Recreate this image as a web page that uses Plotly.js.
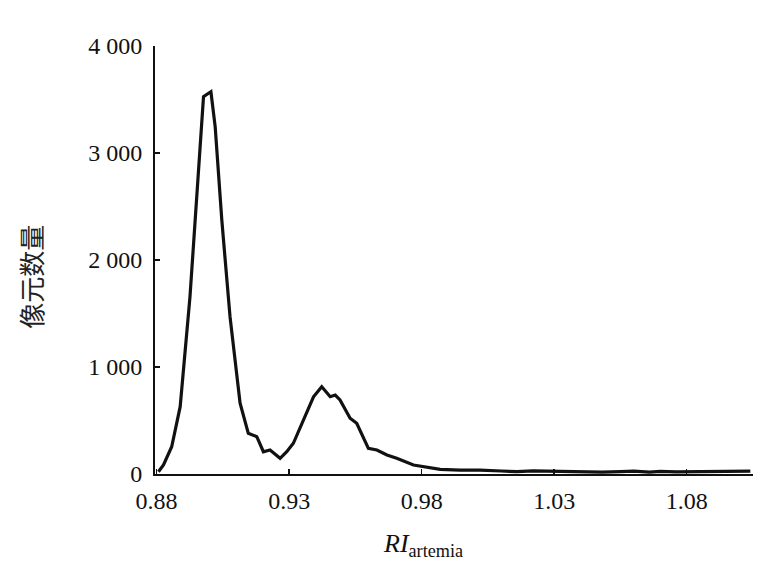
<!DOCTYPE html>
<html>
<head>
<meta charset="utf-8">
<script src="https://cdn.plot.ly/plotly-3.0.1.min.js"></script>
<style>html,body{margin:0;padding:0;background:#fff;}#chart{width:768px;height:573px;}</style>
</head>
<body>
<div id="chart"></div>
<script>
// RI_artemia values (x) and pixel counts (y)
const riValues = [0.8807,0.8826,0.8857,0.8889,0.8926,0.8945,0.8977,0.8996,0.9005,0.9021,0.9046,0.9077,0.9115,0.9146,0.9178,0.9203,0.9228,0.9266,0.9291,0.9316,0.9354,0.9392,0.9423,0.9455,0.9474,0.9492,0.9530,0.9555,0.9599,0.9631,0.9669,0.9706,0.9769,0.9807,0.9870,0.9945,1.002,1.010,1.016,1.022,1.029,1.035,1.042,1.048,1.055,1.060,1.066,1.070,1.076,1.082,1.088,1.093,1.098,1.104];
const pixelCounts = [21,84,255,629,1657,2374,3526,3558,3573,3246,2374,1470,661,380,349,208,224,147,208,287,505,722,816,722,738,692,521,474,240,224,178,147,84,68,44,37,37,28,22,30,25,28,20,18,22,26,17,24,20,22,18,25,21,27];
const xTickVals = [0.88,0.93,0.98,1.03,1.08];
const xTickText = ["0.88","0.93","0.98","1.03","1.08"];
const yTickVals = [0,1000,2000,3000,4000];
const yTickText = ["0","1 000","2 000","3 000","4 000"];
const xTitle = '<i>RI</i><sub>artemia</sub>';
const yTitle = '像元数量';

const trace = {
  x: riValues, y: pixelCounts, type: 'scatter', mode: 'lines',
  line: {color: '#111111', width: 3.2}, hoverinfo: 'skip'
};
const layout = {
  width: 768, height: 573,
  margin: {l: 155, r: 15, t: 46, b: 99},
  paper_bgcolor: '#ffffff', plot_bgcolor: '#ffffff',
  showlegend: false,
  font: {family: 'Liberation Serif, Times New Roman, serif', color: '#111111', size: 24},
  xaxis: {
    range: [0.8794, 1.105], tickvals: xTickVals, ticktext: xTickText,
    showgrid: false, zeroline: false, showline: true, linecolor: '#111111', linewidth: 2,
    ticks: 'inside', ticklen: 5, tickwidth: 1.5, tickcolor: '#111111',
    tickfont: {size: 24, family: 'Liberation Serif, serif', color: '#111111'},
    ticklabelstandoff: 4
  },
  yaxis: {
    range: [0, 4000], tickvals: yTickVals, ticktext: yTickText,
    showgrid: false, zeroline: false, showline: true, linecolor: '#111111', linewidth: 2,
    ticks: 'inside', ticklen: 5, tickwidth: 1.5, tickcolor: '#111111',
    tickfont: {size: 24, family: 'Liberation Serif, serif', color: '#111111'},
    ticklabelstandoff: 6
  },
  annotations: [
    {text: xTitle, xref: 'paper', yref: 'paper', x: 0.448, y: -0.165, xanchor: 'center', yanchor: 'middle',
     showarrow: false, font: {size: 26, family: 'Liberation Serif, serif', color: '#111111'}},
    {text: yTitle, xref: 'paper', yref: 'paper', x: -0.208, y: 0.46, xanchor: 'center', yanchor: 'middle',
     textangle: -90, showarrow: false, font: {size: 26, family: 'Noto Sans CJK SC, sans-serif', color: '#222222'}}
  ]
};
Plotly.newPlot('chart', [trace], layout, {staticPlot: true, displayModeBar: false});
</script>
</body>
</html>
